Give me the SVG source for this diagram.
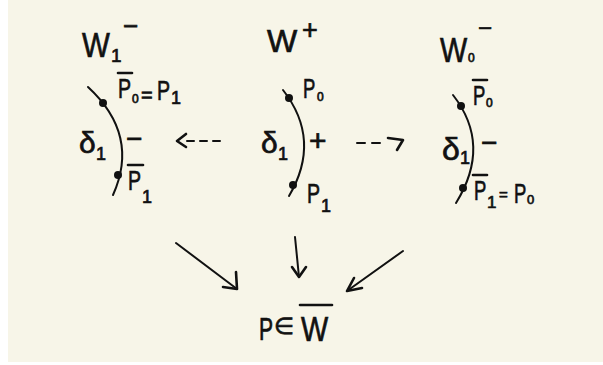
<svg xmlns="http://www.w3.org/2000/svg" width="603" height="365" viewBox="0 0 603 365">
<style>
.t{font-family:"Liberation Sans",Arial,sans-serif;fill:#111;stroke:#111;stroke-width:0.7}
.c{fill:none;stroke:#111;stroke-width:2;stroke-linecap:round}
.b{fill:none;stroke:#111;stroke-width:2.6;stroke-linecap:round;stroke-linejoin:round}
.d{fill:#111}
.p{font-size:28px}
.s{font-size:12px}
.n{font-size:18px}
</style>
<rect width="603" height="365" fill="#ffffff"/>
<rect x="8" y="0" width="595" height="362" fill="#f7f5e8"/>

<g id="node-W1-minus">
<text class="t" font-size="36" transform="translate(82,57) scale(0.82,1)">W</text>
<text class="t" x="111" y="62" font-size="19">1</text>
<text class="t" x="123" y="35" font-size="26">−</text>
<path class="c" d="M88,87 Q140,135 113,195"/>
<circle class="d" cx="103" cy="103" r="4"/>
<circle class="d" cx="118" cy="175" r="4"/>
<line class="b" x1="118" y1="73" x2="132" y2="73"/>
<text class="t p" transform="translate(118,98) scale(0.7,1)">P</text>
<text class="t s" x="132" y="103">0</text>
<text class="t" x="141" y="102" font-size="20">=</text>
<text class="t p" transform="translate(157,100) scale(0.7,1)">P</text>
<text class="t n" x="171" y="104">1</text>
<text class="t" x="79" y="153" font-size="30">δ</text>
<text class="t n" x="96" y="160">1</text>
<text class="t" x="126" y="148" font-size="28">−</text>
<line class="b" x1="128" y1="165" x2="143" y2="165"/>
<text class="t p" transform="translate(128,190) scale(0.7,1)">P</text>
<text class="t n" x="142" y="203">1</text>
</g>

<g id="node-W-plus">
<text class="t" x="267" y="52" font-size="32">W</text>
<text class="t" x="302" y="39" font-size="27">+</text>
<path class="c" d="M283,90 Q322,140 289,196"/>
<circle class="d" cx="289" cy="98" r="4"/>
<circle class="d" cx="293" cy="185" r="4"/>
<text class="t p" transform="translate(303,98) scale(0.66,1)">P</text>
<text class="t s" x="317" y="101">0</text>
<text class="t" x="261" y="153" font-size="30">δ</text>
<text class="t n" x="278" y="160">1</text>
<text class="t" x="309" y="151" font-size="30">+</text>
<text class="t p" transform="translate(307,203) scale(0.7,1)">P</text>
<text class="t n" x="321" y="212">1</text>
</g>

<g id="node-W0-minus">
<text class="t" font-size="36" transform="translate(440,62) scale(0.8,1)">W</text>
<text class="t s" x="468" y="62">0</text>
<text class="t" x="478" y="36" font-size="24">−</text>
<path class="c" d="M453,95 Q492,145 456,203"/>
<circle class="d" cx="461" cy="106" r="4"/>
<circle class="d" cx="463" cy="188" r="4"/>
<line class="b" x1="473" y1="80" x2="487" y2="80"/>
<text class="t p" transform="translate(473,105) scale(0.66,1)">P</text>
<text class="t s" x="486" y="107">0</text>
<text class="t" x="442" y="160" font-size="32">δ</text>
<text class="t n" x="460" y="164">1</text>
<text class="t" x="481" y="152" font-size="28">−</text>
<line class="b" x1="473" y1="175" x2="487" y2="175"/>
<text class="t p" transform="translate(474,200) scale(0.66,1)">P</text>
<text class="t" x="487" y="208" font-size="17">1</text>
<text class="t" x="499" y="200" font-size="15">=</text>
<text class="t p" transform="translate(514,203) scale(0.66,1)">P</text>
<text class="t" x="527" y="204" font-size="13">0</text>
</g>

<g id="node-result">
<text class="t" font-size="31" transform="translate(259,340) scale(0.68,1)">P</text>
<text class="t" x="274" y="334" font-size="23">∈</text>
<text class="t" font-size="36" transform="translate(301,341) scale(0.8,1)">W</text>
<line class="b" x1="300" y1="305" x2="332" y2="305"/>
</g>

<g id="connectors">
<path class="c" d="M187,141 H223" stroke-dasharray="7,6"/>
<polyline class="b" points="186,134 177,141 186,147"/>
<path class="c" d="M357,143 H381" stroke-dasharray="8,7"/>
<polyline class="b" points="388,138 403,140 397,150"/>
<line class="c" x1="176" y1="243" x2="237" y2="289"/>
<polyline class="b" points="223,287 237,289 236,272"/>
<line class="c" x1="295" y1="237" x2="299" y2="277"/>
<polyline class="b" points="292,267 299,277 306,267"/>
<line class="c" x1="403" y1="251" x2="347" y2="291"/>
<polyline class="b" points="354,278 347,291 362,288"/>
</g>
</svg>
